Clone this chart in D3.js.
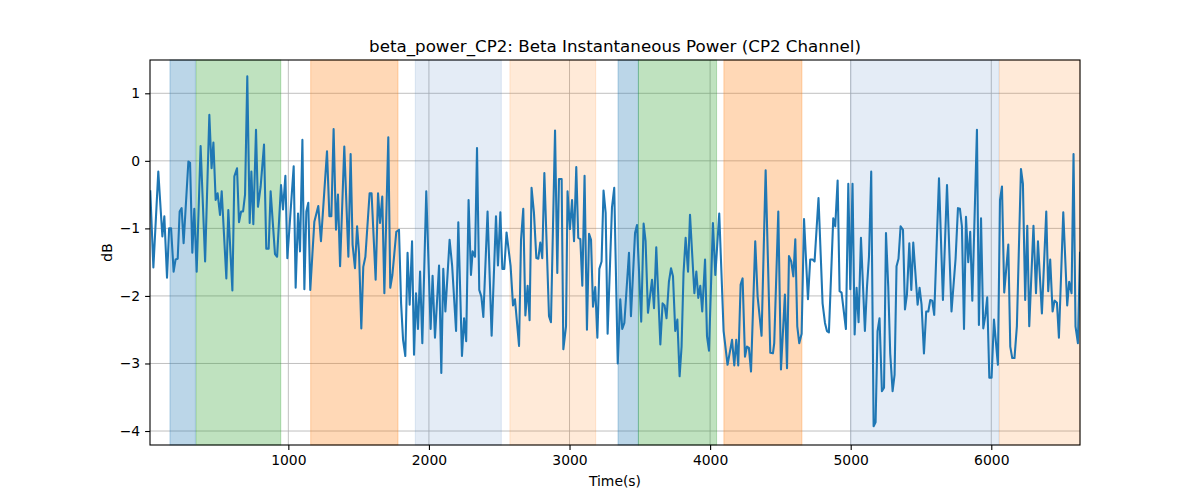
<!DOCTYPE html>
<html><head><meta charset="utf-8">
<script src="https://cdn.jsdelivr.net/npm/d3@7"></script>
<style>body{margin:0;background:#fff}svg text{font-family:"DejaVu Sans",sans-serif;fill:#000}</style>
</head><body><svg id="c" width="1200" height="500"></svg>
<script>
const times = [18,40,75,104,118,137,152,166,184,198,213,227,241,255,289,301,317,331,348,376,408,438,454,467,483,497,514,526,559,573,602,616,635,649,664,678,692,708,725,737,751,770,784,803,827,843,860,874,888,905,920,948,962,979,993,1009,1038,1052,1069,1083,1100,1114,1128,1142,1156,1185,1213,1232,1275,1292,1306,1322,1339,1353,1368,1398,1427,1443,1457,1474,1489,1503,1519,1533,1548,1578,1592,1621,1638,1652,1668,1683,1711,1725,1740,1768,1787,1802,1816,1832,1848,1863,1880,1894,1908,1922,1937,1953,1981,2012,2026,2043,2072,2088,2102,2117,2147,2165,2193,2209,2235,2250,2265,2282,2299,2311,2328,2342,2358,2373,2387,2417,2446,2477,2491,2508,2522,2536,2552,2581,2598,2612,2641,2655,2671,2686,2702,2716,2730,2747,2764,2778,2792,2806,2821,2854,2868,2897,2913,2925,2944,2956,2975,2986,3003,3018,3032,3048,3062,3077,3091,3107,3124,3139,3153,3167,3183,3198,3212,3228,3242,3257,3271,3302,3318,3343,3361,3375,3390,3423,3437,3466,3480,3510,3527,3541,3558,3587,3601,3617,3646,3662,3676,3690,3707,3722,3736,3752,3767,3783,3797,3811,3826,3843,3857,3888,3902,3916,3930,3944,3964,3978,3992,4020,4037,4065,4096,4124,4156,4172,4186,4200,4217,4231,4248,4262,4276,4291,4321,4338,4366,4395,4428,4447,4456,4485,4504,4532,4547,4561,4577,4592,4606,4620,4634,4651,4668,4696,4712,4729,4743,4771,4800,4817,4831,4845,4876,4890,4907,4921,4935,4966,4983,4997,5013,5028,5042,5056,5073,5101,5116,5130,5146,5163,5177,5191,5205,5222,5237,5251,5267,5281,5298,5312,5326,5340,5355,5372,5386,5400,5417,5431,5445,5476,5490,5504,5521,5537,5552,5566,5580,5594,5628,5656,5685,5717,5746,5763,5777,5791,5806,5820,5836,5850,5865,5898,5912,5927,5943,5957,5971,5986,6002,6019,6047,6062,6076,6092,6121,6135,6149,6165,6182,6211,6225,6241,6256,6270,6300,6318,6332,6360,6391,6405,6419,6436,6450,6467,6481,6512,6540,6554,6571,6585,6599,6616,6631];
const values = [-0.45,-1.58,-0.16,-1.12,-0.82,-1.73,-1.0,-1.0,-1.64,-1.46,-1.45,-0.75,-0.70,-1.22,-0.01,-0.03,-1.36,-0.71,-1.64,0.22,-1.49,0.68,-0.11,0.27,-0.58,-0.48,-0.80,-0.45,-1.74,-0.73,-1.92,-0.23,-0.11,-0.91,-0.75,-0.75,-0.50,1.25,-0.92,-0.16,-0.94,0.46,-0.68,-0.38,0.24,-1.30,-1.30,-0.45,-0.87,-1.38,-1.42,-0.36,-0.72,-0.22,-1.44,-0.96,-0.08,-1.88,-0.78,-1.34,0.31,-1.90,-0.75,-0.62,-1.91,-0.90,-0.67,-1.19,0.14,-0.82,-0.82,0.47,-1.02,-0.50,-1.56,0.21,-1.42,0.10,-1.24,-1.59,-0.97,-1.37,-2.48,-1.57,-1.42,-0.48,-0.48,-1.76,-0.48,-0.92,-0.53,-1.96,0.35,-1.88,-1.69,-1.05,-1.02,-2.11,-2.65,-2.89,-1.36,-2.13,-1.19,-2.87,-1.96,-2.49,-1.64,-2.70,-0.45,-2.49,-1.70,-2.62,-1.55,-3.14,-1.60,-2.23,-1.17,-1.55,-2.52,-0.91,-2.89,-2.33,-2.67,-0.58,-1.69,-1.34,-1.42,0.19,-1.91,-2.01,-2.31,-0.75,-2.59,-0.82,-1.55,-0.76,-1.60,-1.60,-1.06,-1.56,-2.14,-2.05,-2.74,-1.17,-0.71,-2.29,-1.85,-2.36,-0.40,-0.77,-1.44,-1.45,-1.21,-1.44,-0.18,-2.30,-2.39,0.45,-1.66,-0.27,-0.27,-2.79,-2.45,-0.45,-1.01,-0.58,-1.19,-0.09,-1.14,-1.16,-1.85,-0.22,-2.50,-1.08,-1.17,-2.16,-1.87,-2.62,-1.60,-1.49,-0.44,-0.77,-2.56,-0.69,-0.40,-3.00,-2.05,-2.49,-2.40,-1.36,-2.30,-1.07,-0.95,-2.38,-0.93,-1.19,-2.25,-1.76,-2.18,-1.28,-2.72,-2.11,-2.14,-2.33,-1.79,-1.59,-1.71,-2.52,-2.35,-3.19,-2.75,-1.66,-1.14,-1.64,-0.80,-1.96,-1.64,-2.03,-1.85,-2.23,-1.46,-2.60,-2.81,-0.92,-1.69,-0.78,-2.52,-3.02,-2.65,-3.03,-2.65,-3.03,-1.83,-1.74,-2.90,-2.75,-2.77,-3.12,-1.19,-2.01,-2.59,-0.14,-2.84,-2.85,-2.70,-0.75,-3.09,-1.98,-3.07,-1.41,-1.49,-1.71,-1.16,-2.45,-2.70,-2.56,-0.86,-2.05,-1.46,-1.46,-1.49,-0.55,-2.11,-2.40,-2.52,-2.54,-0.85,-0.97,-0.29,-1.93,-1.95,-2.49,-0.34,-1.90,-0.34,-2.57,-1.88,-2.39,-1.14,-2.52,-1.86,-1.42,-0.16,-3.93,-3.87,-2.52,-2.33,-3.41,-3.36,-1.07,-1.86,-2.85,-3.41,-3.17,-1.56,-1.45,-0.97,-1.02,-2.20,-1.98,-1.22,-1.91,-1.21,-2.13,-1.88,-2.13,-2.85,-2.23,-2.23,-2.06,-2.07,-2.28,-0.26,-2.06,-0.36,-2.23,-1.45,-0.70,-0.71,-0.97,-2.49,-0.83,-1.50,-1.05,-2.07,0.46,-2.43,-0.85,-2.48,-2.30,-2.02,-3.21,-3.21,-2.35,-3.02,-0.58,-0.38,-1.95,-1.24,-2.75,-2.92,-2.92,-2.45,-0.12,-0.34,-2.06,-0.96,-2.45,-0.96,-1.96,-1.19,-2.26,-0.75,-1.93,-1.46,-2.23,-2.07,-2.10,-2.62,-0.76,-2.14,-1.79,-1.96,0.10,-2.45,-2.70,-1.36];
const spanStart = [158, 345, 1159, 1903, 2576, 3345, 3490, 4098, 5000, 6058];
const spanEnd   = [339, 946, 1780, 2515, 3186, 3490, 4046, 4653, 6055, 6631];
const spanKind  = ["blue","green","orange","lightblue","lightorange","blue","green","orange","lightblue","lightorange"];
const xTicks = [1000,2000,3000,4000,5000,6000];
const yTicks = [-4,-3,-2,-1,0,1];
const title = "beta_power_CP2: Beta Instantaneous Power (CP2 Channel)";
const xLabel = "Time(s)";
const yLabel = "dB";

const kindStyle = {
  blue: {c:"#1f77b4", a:0.3},
  green: {c:"#2ca02c", a:0.3},
  orange: {c:"#ff7f0e", a:0.3},
  lightblue: {c:"#4b80c3", a:0.15},
  lightorange: {c:"#ff7f0e", a:0.16}
};

const L=150, R=1080, T=60, B=445;
const svg = d3.select("#c");
const x = d3.scaleLinear().domain([16, 6631]).range([L, R]);
const y = d3.scaleLinear().domain([-4.207, 1.493]).range([B, T]);

// grid
const g = svg.append("g");
g.selectAll("line.gx").data(xTicks).join("line")
  .attr("x1", d=>x(d)).attr("x2", d=>x(d)).attr("y1", T).attr("y2", B)
  .attr("stroke", "#b0b0b0").attr("stroke-width", 0.8);
g.selectAll("line.gy").data(yTicks).join("line")
  .attr("y1", d=>y(d)).attr("y2", d=>y(d)).attr("x1", L).attr("x2", R)
  .attr("stroke", "#b0b0b0").attr("stroke-width", 0.8);

// spans
svg.append("g").selectAll("rect").data(spanStart.map((s,i)=>({s, e:spanEnd[i], k:spanKind[i]}))).join("rect")
  .attr("x", d=>x(d.s)).attr("width", d=>x(d.e)-x(d.s))
  .attr("y", T).attr("height", B-T)
  .attr("fill", d=>kindStyle[d.k].c).attr("fill-opacity", d=>kindStyle[d.k].a)
  .attr("stroke", d=>kindStyle[d.k].c).attr("stroke-opacity", d=>kindStyle[d.k].a).attr("stroke-width", 1);

// line
svg.append("clipPath").attr("id","clp").append("rect").attr("x",L).attr("y",T).attr("width",R-L).attr("height",B-T);
svg.append("path").datum(times.map((t,i)=>[t, values[i]]))
  .attr("clip-path","url(#clp)")
  .attr("fill","none").attr("stroke","#1f77b4").attr("stroke-width",2.08)
  .attr("stroke-linejoin","round").attr("stroke-linecap","square")
  .attr("d", d3.line().x(d=>x(d[0])).y(d=>y(d[1])));

// axes frame
svg.append("rect").attr("x",L).attr("y",T).attr("width",R-L).attr("height",B-T)
  .attr("fill","none").attr("stroke","#000").attr("stroke-width",1.1);

const xa = svg.append("g").attr("transform",`translate(0,${B})`)
  .call(d3.axisBottom(x).tickValues(xTicks).tickSize(4.9).tickPadding(4.9).tickFormat(d3.format("d")));
const ya = svg.append("g").attr("transform",`translate(${L},0)`)
  .call(d3.axisLeft(y).tickValues(yTicks).tickSize(4.9).tickPadding(4.9).tickFormat(d=>d<0?"\u2212"+Math.abs(d):d));
[xa,ya].forEach(a=>{
  a.select(".domain").remove();
  a.selectAll(".tick line").attr("stroke","#000").attr("stroke-width",1.1);
  a.selectAll(".tick text").attr("font-size","13.9px").attr("font-family","DejaVu Sans").attr("fill","#000");
});

svg.append("text").attr("x",(L+R)/2).attr("y",52).attr("text-anchor","middle")
  .attr("font-size","16.7px").text(title);
svg.append("text").attr("x",(L+R)/2).attr("y",486).attr("text-anchor","middle")
  .attr("font-size","13.9px").text(xLabel);
svg.append("text").attr("transform",`translate(112,${(T+B)/2}) rotate(-90)`).attr("text-anchor","middle")
  .attr("font-size","13.9px").text(yLabel);
</script></body></html>
